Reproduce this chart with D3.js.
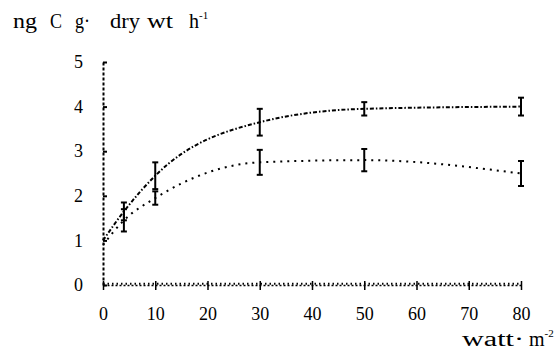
<!DOCTYPE html>
<html>
<head>
<meta charset="utf-8">
<script src="https://cdn.jsdelivr.net/npm/d3@7"></script>
<style>
  body { margin: 0; background: #fff; }
  svg, svg text { font-family: 'Liberation Serif', 'DejaVu Serif', serif; }
</style>
</head>
<body>
<div id="chart"></div>
<script>
// light intensity (watt m-2)
const lightLevels = [0, 4, 10, 30, 50, 80];
// upper curve
const upperMean = [1.0, 1.65, 2.45, 3.65, 3.95, 4.0];
const upperErr = [0, 0.2, 0.3, 0.3, 0.15, 0.2];
// lower curve
const lowerMean = [0.9, 1.45, 1.95, 2.75, 2.8, 2.5];
const lowerErr = [0, 0.25, 0.15, 0.28, 0.25, 0.28];
// dark control, close to zero
const darkMean = [0.03, 0.03, 0.03, 0.03, 0.03, 0.03];

const xTicks = [0, 10, 20, 30, 40, 50, 60, 70, 80];
const yTicks = [0, 1, 2, 3, 4, 5];
const yTitleWords = ["ng", "C", "g·", "dry", "wt", "h"];
const yTitleWordX = [13, 50, 75, 110, 147, 189];
const yTitleWordW = [24, 12, 15, 30, 26, 10];

const width = 560, height = 351;
const margin = { top: 62, right: 39, bottom: 66, left: 103 };

const svg = d3.select("#chart").append("svg")
    .attr("width", width)
    .attr("height", height);

const x = d3.scaleLinear().domain([0, 80]).range([margin.left, width - margin.right]);
const y = d3.scaleLinear().domain([0, 5]).range([height - margin.bottom, margin.top]);

// dotted axes with crossing ticks, like the scan
const xAxis = svg.append("g")
    .attr("transform", `translate(0,${y(0)})`)
    .call(d3.axisBottom(x).tickValues(xTicks).tickFormat(d3.format("d"))
        .tickSizeInner(5).tickSizeOuter(0).tickPadding(17));
xAxis.attr("font-family", null).attr("font-size", 18);
xAxis.select(".domain").attr("stroke-dasharray", "2,2").attr("stroke-width", 1.5);
xAxis.selectAll(".tick line").attr("y1", -4).attr("stroke-width", 1.5);
xAxis.selectAll("text").attr("fill", "#000");

const yAxis = svg.append("g")
    .attr("transform", `translate(${x(0)},0)`)
    .call(d3.axisLeft(y).tickValues(yTicks).tickFormat(d3.format("d"))
        .tickSizeInner(4).tickSizeOuter(0).tickPadding(16));
yAxis.attr("font-family", null).attr("font-size", 18);
yAxis.select(".domain").attr("stroke-dasharray", "3,2").attr("stroke-width", 2);
yAxis.selectAll(".tick line").attr("x2", 4).attr("stroke-width", 2);
yAxis.selectAll("text").attr("fill", "#000");

const line = d3.line()
    .x((d, i) => x(lightLevels[i]))
    .y(d => y(d))
    .curve(d3.curveMonotoneX);

const series = [
    { mean: upperMean, err: upperErr, dash: "4,2,1.5,2" },
    { mean: lowerMean, err: lowerErr, dash: "2,5" },
    { mean: darkMean, err: null, dash: "1.5,3" }
];

series.forEach(s => {
    svg.append("path")
        .datum(s.mean)
        .attr("fill", "none")
        .attr("stroke", "#000")
        .attr("stroke-width", 2)
        .attr("stroke-dasharray", s.dash)
        .attr("d", line);

    if (!s.err) return;
    const bars = svg.append("g");
    s.mean.forEach((m, i) => {
        if (!s.err[i]) return;
        const cx = x(lightLevels[i]);
        const g = bars.append("g").attr("stroke", "#000").attr("stroke-width", 2);
        g.append("line")
            .attr("x1", cx).attr("x2", cx)
            .attr("y1", y(m - s.err[i])).attr("y2", y(m + s.err[i]));
        [m - s.err[i], m + s.err[i]].forEach(v => {
            g.append("line")
                .attr("x1", cx - 3).attr("x2", cx + 3)
                .attr("y1", y(v)).attr("y2", y(v));
        });
    });
});

// axis titles
const yTitle = svg.append("text")
    .attr("y", 28)
    .attr("font-size", 20)
    .attr("fill", "#000");
yTitleWords.forEach((w, i) => {
    yTitle.append("tspan")
        .attr("x", yTitleWordX[i]).attr("y", 28)
        .attr("textLength", yTitleWordW[i])
        .attr("lengthAdjust", "spacingAndGlyphs")
        .text(w);
});
yTitle.append("tspan").attr("dy", -9).attr("font-size", 11).text("-1");

const xTitle = svg.append("text")
    .attr("y", 346)
    .attr("font-size", 20)
    .attr("fill", "#000");
xTitle.append("tspan").attr("x", 462)
    .attr("textLength", 62).attr("lengthAdjust", "spacingAndGlyphs")
    .text("watt·");
xTitle.append("tspan").attr("x", 529).text("m");
xTitle.append("tspan").attr("dy", -9).attr("font-size", 11).text("-2");
</script>
</body>
</html>
